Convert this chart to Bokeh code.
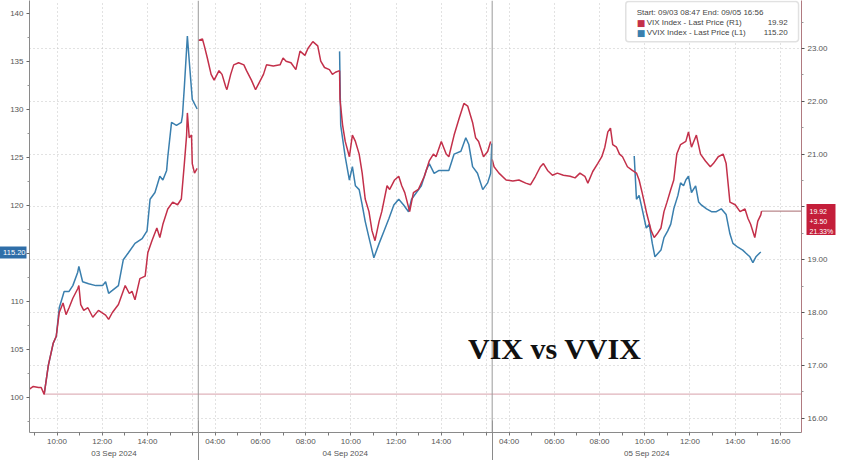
import numpy as np
from bokeh.plotting import figure
from bokeh.models import (Range1d, LinearAxis, FixedTicker, Grid, Span, Label,
                          BoxAnnotation, NumeralTickFormatter, CustomJSTickFormatter)
from bokeh.embed import file_html
from bokeh.resources import INLINE

# ---------------- data ----------------
session_days = ["03 Sep 2024", "04 Sep 2024", "05 Sep 2024"]
session_open = ["08:47", "03:15", "03:15"]
session_close = ["16:15", "16:15", "16:56"]

vix_d1_t = ["08:47","08:57","09:11","09:18","09:26","09:37","09:50","09:58","10:06","10:16","10:24","10:32",
            "10:42","10:55","10:58","11:03","11:11","11:22","11:35","11:50","12:09","12:17","12:27","12:43",
            "13:01","13:12","13:19","13:27","13:40","13:54","14:01","14:12","14:25","14:33","14:41","14:54",
            "15:07","15:20","15:30","15:38","15:44","15:46","15:51","15:57","15:59","16:05","16:12"]
vix_d1_v = [16.55,16.60,16.58,16.58,16.45,17.00,17.42,17.55,18.00,18.18,17.96,18.09,
            18.27,18.45,18.51,18.15,18.04,18.09,17.91,18.04,17.95,17.87,18.00,18.15,
            18.51,18.36,18.40,18.24,18.64,18.69,19.13,19.36,19.60,19.42,19.67,19.96,
            20.09,20.04,20.15,20.82,21.36,21.78,21.31,21.36,20.82,20.64,20.73]

vix_d2_t = ["03:15","03:26","03:31","03:39","03:49","03:57","04:10","04:18","04:28","04:31","04:41","04:49",
            "05:02","05:16","05:23","05:36","05:47","05:55","06:08","06:16","06:34","06:52","07:00","07:08",
            "07:21","07:34","07:45","07:58","08:06","08:19","08:32","08:40","08:50","09:03","09:11","09:19",
            "09:30","09:31","09:38","09:45","09:56","10:04","10:12","10:22","10:30","10:38","10:48","10:56",
            "11:04","11:15","11:22","11:36","11:43","11:56","12:07","12:15","12:23","12:36","12:46","12:59",
            "13:15","13:28","13:39","13:46","14:00","14:13","14:20","14:34","14:47","15:00","15:10","15:23",
            "15:31","15:39","15:52","16:03","16:11"]
vix_d2_v = [23.15,23.18,23.05,22.82,22.51,22.40,22.58,22.51,22.27,22.22,22.51,22.69,
            22.73,22.69,22.58,22.40,22.22,22.33,22.51,22.69,22.67,22.69,22.82,22.76,
            22.73,22.60,22.95,22.87,23.00,23.13,23.05,22.76,22.64,22.60,22.51,22.55,
            22.58,22.04,21.55,21.24,20.95,21.36,21.24,21.00,20.64,20.15,19.91,19.55,
            19.36,19.73,19.91,20.40,20.33,20.51,20.58,20.40,20.27,19.91,20.27,20.33,
            20.58,20.87,21.00,20.95,21.24,21.00,20.95,21.36,21.67,21.96,21.91,21.60,
            21.31,21.24,20.95,21.05,21.24]

vix_d3_t = ["03:15","03:20","03:33","03:52","04:10","04:26","04:44","04:57","05:10","05:23","05:31","05:42",
            "05:55","06:08","06:24","06:42","06:55","07:08","07:21","07:29","07:42","07:55","08:06","08:14",
            "08:22","08:29","08:35","08:45","08:53","09:01","09:14","09:27","09:38","09:45","09:53","10:06",
            "10:17","10:25","10:33","10:43","10:51","10:59","11:09","11:17","11:25","11:35","11:49","11:56",
            "12:04","12:17","12:28","12:41","12:54","13:02","13:15","13:28","13:36","13:46","14:00","14:13",
            "14:26","14:34","14:41","14:52","15:00","15:08","15:10"]
vix_d3_v = [20.90,20.76,20.64,20.51,20.49,20.51,20.45,20.42,20.58,20.76,20.82,20.69,
            20.60,20.64,20.60,20.58,20.55,20.64,20.58,20.45,20.67,20.82,20.95,21.13,
            21.42,21.49,21.18,21.13,21.00,20.95,20.76,20.69,20.64,20.51,20.27,19.85,
            19.55,19.42,19.49,19.60,19.91,20.09,20.33,20.51,21.00,21.18,21.24,21.42,
            21.13,21.36,21.00,20.87,20.76,20.82,20.95,21.00,20.82,20.09,20.04,19.91,
            19.96,19.78,19.67,19.42,19.73,19.85,19.92]

vvix_d1_t = ["09:26","09:37","09:50","09:58","10:06","10:16","10:19","10:32","10:42","10:55","10:58","11:08",
             "11:24","11:43","12:01","12:09","12:17","12:27","12:43","12:56","13:09","13:27","13:46","13:59",
             "14:07","14:20","14:33","14:41","14:51","14:54","15:04","15:17","15:30","15:33","15:38","15:46",
             "15:51","15:59","16:12"]
vvix_d1_v = [100.4,103.4,105.7,106.4,109.4,110.7,111.1,111.1,111.7,113.1,113.7,112.1,
             111.9,111.7,111.7,112.1,110.9,111.2,111.7,114.4,115.1,116.1,116.6,117.4,
             120.7,121.4,123.1,122.7,123.7,125.1,128.7,128.4,128.7,129.4,132.4,137.7,
             135.1,131.1,130.1]

vvix_d2_t = ["09:30","09:33","09:45","09:56","10:04","10:12","10:22","10:30","10:38","10:48","10:56","11:01",
             "11:15","11:28","11:41","11:54","12:07","12:20","12:33","12:41","12:54","13:07","13:20","13:28",
             "13:41","13:54","14:07","14:20","14:34","14:52","15:05","15:13","15:23","15:36","15:50","16:03",
             "16:11","16:14"]
vvix_d2_v = [136.1,128.4,125.1,122.7,124.1,122.1,121.7,120.1,118.4,116.7,115.4,114.6,
             116.1,117.4,118.7,120.1,120.7,120.1,119.4,120.7,121.4,122.1,123.7,124.4,
             123.4,123.7,123.7,123.7,125.4,125.7,127.1,126.4,124.1,123.4,121.7,122.4,
             123.4,126.5]

vvix_d3_t = ["09:32","09:38","09:45","09:53","10:04","10:12","10:20","10:27","10:43","10:51","11:01","11:09",
             "11:17","11:28","11:35","11:43","11:49","11:56","12:04","12:15","12:23","12:30","12:44","12:57",
             "13:10","13:23","13:36","13:46","13:54","14:07","14:20","14:28","14:39","14:47","14:55","15:05",
             "15:08"]
vvix_d3_v = [125.2,120.7,121.1,119.7,117.7,118.1,116.1,114.7,115.4,116.7,117.4,118.1,
             119.7,121.1,122.4,122.1,122.7,123.1,121.4,122.1,120.4,120.1,119.7,119.4,
             119.4,119.7,119.1,117.1,116.1,115.7,115.4,115.1,114.7,114.1,114.7,115.1,
             115.2]

vix_last = 19.92
vix_change = "+3.50"
vix_change_pct = "21.33%"
vvix_last = 115.20
vvix_ref = 100.4

left_ticks = [100, 105, 110, 115, 120, 125, 130, 135, 140]
right_ticks = [16, 17, 18, 19, 20, 21, 22, 23]

BLUE = "#3a7fae"
RED = "#c3304a"

# ---------------- compressed trading-time axis ----------------
def mins(hhmm):
    h, m = hhmm.split(":")
    return int(h) * 60 + int(m)

starts = [mins(s) for s in session_open]
ends = [mins(s) for s in session_close]
offsets = [0]
for i in range(len(starts) - 1):
    offsets.append(offsets[-1] + ends[i] - starts[i])
total = offsets[-1] + ends[-1] - starts[-1]

def to_x(d, hhmm):
    return offsets[d] + mins(hhmm) - starts[d]

def series(ts_list, vs_list):
    xs, ys = [], []
    for d, (ts, vs) in enumerate(zip(ts_list, vs_list)):
        if xs:
            xs.append(np.nan); ys.append(np.nan)
        xs += [to_x(d, t) for t in ts]
        ys += list(vs)
    return np.array(xs, dtype=float), np.array(ys, dtype=float)

vix_x, vix_y = series([vix_d1_t, vix_d2_t, vix_d3_t], [vix_d1_v, vix_d2_v, vix_d3_v])
vvix_x, vvix_y = series([vvix_d1_t, vvix_d2_t, vvix_d3_t], [vvix_d1_v, vvix_d2_v, vvix_d3_v])

hour_ticks, hour_labels, grid_ticks = [], {}, []
for d in range(3):
    for h in range(0, 24):
        m = h * 60
        if starts[d] <= m <= ends[d]:
            x = offsets[d] + m - starts[d]
            hour_ticks.append(x)
            show = (h % 2 == 0) and (ends[d] - m >= 30 or d == 2)
            hour_labels[x] = f"{h:02d}:00" if show else ""
            if h % 2 == 0:
                grid_ticks.append(x)
separators = offsets[1:]
mids = [offsets[d] + (ends[d] - starts[d]) // 2 for d in range(3)]

# ---------------- figure ----------------
FW, FH = 772, 432
VVIX_LO, VVIX_HI = 96.4, 141.4
VIX_LO, VIX_HI = 15.727, 23.909
p = figure(frame_width=FW, frame_height=FH, x_range=Range1d(0, total),
           y_range=Range1d(VVIX_LO, VVIX_HI), output_backend="svg", toolbar_location=None,
           min_border_left=28, min_border_right=32, min_border_top=0, min_border_bottom=0,
           background_fill_color="white", border_fill_color="white")
p.outline_line_color = None
p.extra_y_ranges = {"vix": Range1d(VIX_LO, VIX_HI)}
vix_per_px = (VIX_HI - VIX_LO) / FH

FONT = "Liberation Sans"
TXT = "#555555"

# left axis (VVIX)
ya = p.yaxis[0]
ya.ticker = FixedTicker(ticks=left_ticks, minor_ticks=[t + 2.5 for t in left_ticks[:-1]] + [97.5])
ya.axis_line_color = "#8a8a8a"
ya.major_tick_line_color = "#666666"
ya.minor_tick_line_color = "#999999"
ya.major_tick_out = 3; ya.major_tick_in = 0
ya.minor_tick_out = 2; ya.minor_tick_in = 0
ya.major_label_text_font = FONT
ya.major_label_text_font_size = "8px"
ya.major_label_text_color = TXT
ya.major_label_standoff = 3

# right axis (VIX)
vix_ticker = FixedTicker(ticks=right_ticks, minor_ticks=[t + 0.5 for t in right_ticks])
ra = LinearAxis(y_range_name="vix", ticker=vix_ticker, formatter=NumeralTickFormatter(format="0.00"))
ra.axis_line_color = "#b07a80"
ra.major_tick_line_color = "#555555"
ra.minor_tick_line_color = "#999999"
ra.major_tick_out = 3; ra.major_tick_in = 0
ra.minor_tick_out = 2; ra.minor_tick_in = 0
ra.major_label_text_font = FONT
ra.major_label_text_font_size = "8px"
ra.major_label_text_color = TXT
ra.major_label_standoff = 3
p.add_layout(ra, "right")

# last-value tag on the right: an outer, label-less axis whose thick inward tick paints the red box
tag_center = vix_last - 8 * vix_per_px
tag_lines = [vix_last - 20 * vix_per_px, vix_last - 10 * vix_per_px, vix_last]
rt = LinearAxis(y_range_name="vix",
                ticker=FixedTicker(ticks=tag_lines, minor_ticks=[tag_center]),
                formatter=CustomJSTickFormatter(args=dict(labels=[vix_change_pct, vix_change,
                                                                  f"{vix_last:.2f}"]),
                                                code="return labels[index]"))
rt.axis_line_color = None
rt.major_tick_line_color = None
rt.major_tick_out = 0; rt.major_tick_in = 0
rt.minor_tick_line_color = "#c41e3a"
rt.minor_tick_line_width = 31
rt.minor_tick_in = 24; rt.minor_tick_out = 5
rt.major_label_text_font = FONT
rt.major_label_text_font_size = "7px"
rt.major_label_text_color = "white"
rt.major_label_standoff = -26
p.add_layout(rt, "right")

# last-value tag on the left (VVIX)
lt = LinearAxis(ticker=FixedTicker(ticks=[vvix_last], minor_ticks=[vvix_last]),
                formatter=NumeralTickFormatter(format="0.00"))
lt.axis_line_color = None
lt.major_tick_line_color = None
lt.major_tick_out = 0; lt.major_tick_in = 0
lt.minor_tick_line_color = "#2f6ea8"
lt.minor_tick_line_width = 12
lt.minor_tick_in = 19; lt.minor_tick_out = 9
lt.major_label_text_font = FONT
lt.major_label_text_font_size = "7.5px"
lt.major_label_text_color = "white"
lt.major_label_standoff = -27
p.add_layout(lt, "left")

# time axis
xa = p.xaxis[0]
xa.ticker = FixedTicker(ticks=hour_ticks, minor_ticks=[])
xa.major_label_overrides = hour_labels
xa.axis_line_color = "#8a8a8a"
xa.major_tick_line_color = "#777777"
xa.major_tick_out = 3; xa.major_tick_in = 0
xa.minor_tick_out = 0; xa.minor_tick_in = 0
xa.major_label_text_font = FONT
xa.major_label_text_font_size = "8px"
xa.major_label_text_color = TXT
xa.major_label_standoff = 1

# date axis
da = LinearAxis(ticker=FixedTicker(ticks=mids, minor_ticks=[]))
da.major_label_overrides = {m: s for m, s in zip(mids, session_days)}
da.axis_line_color = None
da.major_tick_line_color = None
da.minor_tick_line_color = None
da.major_tick_out = 0; da.major_tick_in = 0
da.minor_tick_out = 0; da.minor_tick_in = 0
da.major_label_text_font = FONT
da.major_label_text_font_size = "8px"
da.major_label_text_color = TXT
da.major_label_standoff = 0
p.add_layout(da, "below")

# session separators below the frame (inward minor ticks of an unlabeled axis)
sa = LinearAxis(ticker=FixedTicker(ticks=[], minor_ticks=separators))
sa.axis_line_color = None
sa.major_tick_line_color = None
sa.major_tick_out = 0; sa.major_tick_in = 0
sa.minor_tick_line_color = "#8a8a8a"
sa.minor_tick_in = 40; sa.minor_tick_out = 0
sa.major_label_text_font_size = "0px"
sa.major_label_standoff = 0
p.add_layout(sa, "below")

# grids
p.xgrid[0].ticker = FixedTicker(ticks=grid_ticks)
p.xgrid.grid_line_color = "#c4c4c4"
p.xgrid.grid_line_dash = "1 3"
p.ygrid.visible = False
hg = Grid(dimension=1, ticker=vix_ticker, y_range_name="vix",
          grid_line_color="#c4c4c4", grid_line_dash="1 3")
p.add_layout(hg)

for s in separators:
    p.add_layout(Span(location=s, dimension="height", line_color="#9a9a9a", line_width=1))

# reference lines
p.line([vvix_x[0], total], [vvix_ref, vvix_ref], line_color="#d7a0aa", line_width=1)
vix_end_x = vix_x[~np.isnan(vix_x)][-1]
p.line([vix_end_x, total], [vix_last, vix_last], line_color="#a86a70", line_width=1, y_range_name="vix")

# series
p.line(vvix_x, vvix_y, line_color=BLUE, line_width=1.5)
p.line(vix_x, vix_y, line_color=RED, line_width=1.5, y_range_name="vix")

# title text
sx = FW / 782.0
sy = FH / 450.0
p.add_layout(Label(x=(565 - 33) * sx, y=(450 - 362) * sy, x_units="screen", y_units="screen",
                   text="VIX vs VVIX", text_font="Liberation Serif", text_font_style="bold",
                   text_font_size="30px", text_color="#111111", text_align="center",
                   text_baseline="middle"))

# legend box
p.add_layout(BoxAnnotation(left=(637 - 33) * sx, right=(812 - 33) * sx, top=FH - 1, bottom=FH - 43 * sy,
                           left_units="screen", right_units="screen", top_units="screen",
                           bottom_units="screen", fill_color="white", fill_alpha=1.0,
                           line_color="#9a9a9a", line_width=1.5, border_radius=3))
lx = (648 - 33) * sx
p.add_layout(Label(x=lx, y=FH - 12 * sy, x_units="screen", y_units="screen",
                   text="Start: 09/03 08:47 End: 09/05 16:56", text_font=FONT,
                   text_font_size="8px", text_color="#444444", text_baseline="middle"))
for i, (name, val, col) in enumerate([("VIX Index - Last Price (R1)", f"{vix_last:.2f}", RED),
                                      ("VVIX Index - Last Price (L1)", f"{vvix_last:.2f}", BLUE)]):
    yy = FH - (23 + 10.5 * i) * sy
    p.add_layout(Label(x=lx, y=yy, x_units="screen", y_units="screen", text="■",
                       text_font="DejaVu Sans", text_font_size="9px", text_color=col,
                       text_baseline="middle"))
    p.add_layout(Label(x=lx + 10, y=yy, x_units="screen", y_units="screen", text=name,
                       text_font=FONT, text_font_size="8px", text_color="#444444",
                       text_baseline="middle"))
    p.add_layout(Label(x=(801 - 33) * sx, y=yy, x_units="screen", y_units="screen", text=val,
                       text_font=FONT, text_font_size="8px", text_color="#444444",
                       text_baseline="middle", text_align="right"))

open("out.html", "w").write(file_html(p, INLINE))
